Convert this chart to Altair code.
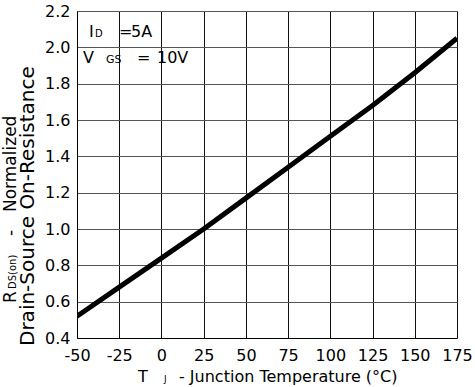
import altair as alt
import pandas as pd

# Data
temps = [-50, -25, 0, 25, 50, 75, 100, 125, 150, 175]
rds_norm = [0.52, 0.68, 0.84, 1.00, 1.17, 1.34, 1.51, 1.68, 1.86, 2.05]
x_ticks = [-50, -25, 0, 25, 50, 75, 100, 125, 150, 175]
y_ticks = [0.4, 0.6, 0.8, 1.0, 1.2, 1.4, 1.6, 1.8, 2.0, 2.2]

df = pd.DataFrame({"T": temps, "R": rds_norm})
one = pd.DataFrame({"k": [0]})

FONT = "DejaVu Sans"
W, H = 380, 327

line = alt.Chart(df).mark_line(color="black", strokeWidth=5, clip=True).encode(
    x=alt.X("T:Q", scale=alt.Scale(domain=[-50, 175], nice=False),
            axis=alt.Axis(values=x_ticks, title=None, ticks=False, tickSize=0,
                          labelPadding=9, labelFont=FONT, labelFontSize=16,
                          labelColor="black", domainColor="black",
                          labelExpr="replace(datum.label, '\u2212', '-')",
                          gridColor="#111", gridWidth=1, labelFlush=False)),
    y=alt.Y("R:Q", scale=alt.Scale(domain=[0.4, 2.2], nice=False),
            axis=alt.Axis(values=y_ticks, title=None, ticks=False, tickSize=0,
                          labelPadding=7, labelFont=FONT, labelFontSize=16,
                          labelColor="black", domainColor="black", format=".1f",
                          gridColor="#555", gridWidth=1, labelFlush=False)),
)


OX, OY = 77, 11  # plot origin in page coordinates


def p(s, px, py, size=16, angle=0):
    return alt.Chart(one).mark_text(
        text=s, font=FONT, fontSize=size, color="black", align="left",
        baseline="alphabetic", angle=angle,
    ).encode(x=alt.value(px - OX), y=alt.value(py - OY))


labels = [
    # annotation
    p("I", 89, 37), p("D", 95, 37, 10), p("=", 119, 37), p("5A", 131, 37),
    p("V", 83, 63), p("GS", 106, 63, 11), p("=", 137, 63), p("10V", 157, 63),
    # x title
    p("T", 138, 382), p("J", 164, 382, 9), p("- Junction Temperature (°C)", 179, 382),
    # y title line 1
    p("R", 16, 303, 17, 270), p("DS(on)", 16, 289, 10, 270), p("-", 16, 236, 17, 270),
    p("Normalized", 16, 212, 17, 270),
    # y title line 2
    p("Drain-Source On-Resistance", 34, 346, 20, 270),
]

chart = alt.layer(line, *labels).properties(
    width=W, height=H,
    autosize=alt.AutoSizeParams(type="none"),
    padding={"left": OX, "top": OY, "right": 475 - OX - W, "bottom": 387 - OY - H},
).configure_view(stroke="black", strokeWidth=1.5).configure(background="white")

chart.save("out.html", embed_options={"renderer": "svg", "actions": False})
